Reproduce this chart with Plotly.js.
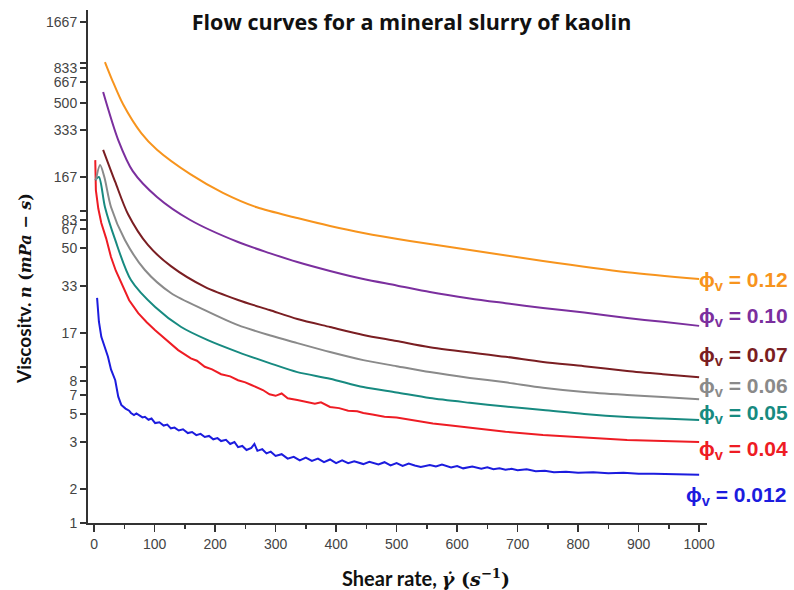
<!DOCTYPE html>
<html>
<head>
<meta charset="utf-8">
<script src="https://cdn.plot.ly/plotly-3.0.1.min.js"></script>
<style>html,body{margin:0;padding:0;background:#fff;}#chart{width:794px;height:590px;}</style>
</head>
<body>
<div id="chart"></div>
<script>
// ---- Non-uniform viscosity scale used by the reference axis (label value -> axis position)
const yScaleValues = [1, 2, 3, 5, 7, 8, 17, 33, 50, 67, 83, 167, 333, 500, 667, 833, 1667];
const yScalePos    = [0, 34, 81, 109, 128, 142, 190, 237, 275, 294, 303, 346, 393, 420, 441, 455, 501];
const yTickLabels  = ["1", "2", "3", "5", "7", "8", "17", "33", "50", "67", "83", "167", "333", "500", "667", "833", "1667"];
const yBlankTickPos = [156, 312, 460];

// ---- Data: shear rate (1/s) and viscosity (mPa·s)
const shear012 = [5, 8, 12, 18, 23, 28, 35, 40, 45, 52, 58, 61, 66, 70, 75, 80, 84, 90, 95, 101, 108, 115, 121, 127, 133, 140, 147, 155, 162, 169, 176, 183, 190, 197, 204, 210, 218, 225, 232, 238, 245, 252, 260, 265, 270, 278, 285, 292, 300, 310, 320, 330, 340, 350, 360, 370, 380, 390, 400, 410, 420, 430, 445, 455, 470, 480, 490, 500, 510, 520, 530, 540, 555, 565, 575, 590, 600, 610, 625, 640, 650, 660, 670, 680, 690, 700, 715, 730, 745, 760, 780, 800, 825, 850, 875, 900, 925, 950, 975, 1000];
const visc012  = [27.9, 20, 16.0, 13.5, 11.7, 9.6, 8.1, 6.8, 5.87, 5.5, 5.3, 5.09, 4.9, 5.05, 4.85, 4.7, 4.75, 4.5, 4.6, 4.24, 4.3, 4.05, 4.12, 3.85, 3.9, 3.7, 3.78, 3.53, 3.6, 3.4, 3.48, 3.29, 3.35, 3.15, 3.22, 3.05, 3.12, 2.95, 3.0, 2.87, 2.9, 2.8, 2.85, 2.95, 2.78, 2.82, 2.72, 2.76, 2.66, 2.7, 2.6, 2.64, 2.56, 2.62, 2.55, 2.6, 2.52, 2.58, 2.5, 2.56, 2.5, 2.54, 2.48, 2.53, 2.47, 2.52, 2.45, 2.5, 2.44, 2.49, 2.45, 2.42, 2.46, 2.43, 2.47, 2.41, 2.44, 2.39, 2.43, 2.38, 2.41, 2.37, 2.39, 2.36, 2.38, 2.35, 2.37, 2.33, 2.34, 2.31, 2.32, 2.30, 2.31, 2.29, 2.30, 2.28, 2.28, 2.27, 2.27, 2.26];

const shear04 = [2, 3, 7, 12, 20, 28, 36, 45, 58, 73, 87, 101, 120, 139, 160, 170, 183, 195, 210, 225, 238, 250, 260, 270, 279, 290, 300, 310, 320, 336, 350, 365, 375, 390, 405, 420, 435, 445, 460, 480, 500, 527, 560, 590, 621, 680, 742, 810, 881, 940, 1000];
const visc04  = [214, 135, 100, 77.2, 58, 45.3, 39, 34.1, 27, 22.5, 19.8, 17.7, 15.2, 13.0, 11.4, 11.0, 10.0, 9.6, 8.9, 8.6, 8.1, 7.9, 7.7, 7.5, 7.34, 7.05, 6.9, 7.1, 6.6, 6.41, 6.2, 6.0, 6.15, 5.66, 5.55, 5.3, 5.25, 5.09, 4.95, 4.75, 4.7, 4.48, 4.2, 4.05, 3.9, 3.62, 3.41, 3.25, 3.11, 3.05, 3.0];

const shear05 = [2, 8, 18, 35, 61, 101, 144, 188, 238, 290, 336, 390, 445, 500, 555, 621, 680, 742, 810, 881, 940, 1000];
const visc05  = [159, 167, 102.5, 56.6, 35.2, 24.5, 18.5, 15.2, 12.6, 10.6, 9.2, 8.3, 7.55, 7.17, 6.63, 6.1, 5.7, 5.37, 5.0, 4.73, 4.6, 4.48];

const shear06 = [3, 10, 17, 28, 51, 84, 127, 183, 238, 290, 336, 390, 445, 500, 555, 621, 680, 742, 810, 881, 940, 1000];
const visc06  = [159, 199, 167, 102.5, 56.6, 39.3, 29.9, 23.5, 19.0, 16.4, 14.5, 12.6, 11.1, 10.1, 9.2, 8.4, 7.9, 7.5, 7.2, 7.0, 6.75, 6.5];

const shear07 = [15, 35, 56, 89, 127, 183, 238, 290, 336, 390, 445, 500, 555, 680, 742, 810, 881, 940, 1000];
const visc07  = [249, 154, 91.5, 52.4, 41.0, 32.6, 27.1, 23.5, 20.7, 18.5, 16.5, 15.0, 13.6, 11.7, 10.8, 10.1, 9.36, 8.9, 8.5];

const shear10 = [15, 40, 64, 104, 159, 238, 290, 336, 390, 445, 500, 555, 621, 680, 742, 810, 881, 940, 1000];
const visc10  = [581, 287, 182, 120.7, 83, 54.8, 47.3, 42.9, 38.9, 35.6, 33.2, 30.3, 27.7, 25.9, 24.2, 22.7, 21.0, 19.9, 18.8];

const shear12 = [18, 30, 48, 78, 104, 159, 213, 269, 336, 390, 445, 522, 621, 742, 881, 1000];
const visc12  = [911, 688, 490, 318, 249, 174, 129, 102, 85.7, 72.0, 63.0, 55.7, 48.9, 43.4, 38.4, 35.6];

const seriesNames = ["ϕv = 0.012", "ϕv = 0.04", "ϕv = 0.05", "ϕv = 0.06", "ϕv = 0.07", "ϕv = 0.10", "ϕv = 0.12"];
const labelTexts  = ["0.012", "0.04", "0.05", "0.06", "0.07", "0.10", "0.12"];

// ---- scale function: piecewise-logarithmic between labelled ticks
function toAxis(v) {
  const n = yScaleValues.length;
  if (v <= yScaleValues[0]) return yScalePos[0];
  for (let i = 0; i < n - 1; i++) {
    const a = yScaleValues[i], b = yScaleValues[i + 1];
    if (v <= b) {
      const t = Math.log(v / a) / Math.log(b / a);
      return yScalePos[i] + t * (yScalePos[i + 1] - yScalePos[i]);
    }
  }
  const a = yScaleValues[n - 2], b = yScaleValues[n - 1];
  const t = Math.log(v / a) / Math.log(b / a);
  return yScalePos[n - 2] + t * (yScalePos[n - 1] - yScalePos[n - 2]);
}

const colors = ["#1c1cde", "#ee1c24", "#178a80", "#8a8a8a", "#7a1e22", "#7b2f9e", "#f7941d"];
const xs = [shear012, shear04, shear05, shear06, shear07, shear10, shear12];
const ys = [visc012, visc04, visc05, visc06, visc07, visc10, visc12];
const smooth = [false, false, true, true, true, true, true];

const traces = xs.map((x, i) => ({
  type: "scatter",
  mode: "lines",
  name: seriesNames[i],
  x: x,
  y: ys[i].map(toAxis),
  customdata: ys[i],
  hovertemplate: "γ̇=%{x}<br>η=%{customdata}<extra>" + seriesNames[i] + "</extra>",
  line: smooth[i] ? {color: colors[i], width: 2, shape: "spline", smoothing: 0.8} : {color: colors[i], width: 2}
}));

// label positions (pixels in the 794x590 figure)
const plotL = 88, plotR = 707, plotT = 10, plotB = 523;
const labelPx = [[684, 496], [697, 450], [697, 414], [697, 387], [697, 356], [697, 317], [697, 281]];
const px2x = p => (p - plotL) / (plotR - plotL);
const px2y = p => (plotB - p) / (plotB - plotT);

const annotations = labelPx.map((p, i) => ({
  xref: "paper", yref: "paper",
  x: px2x(p[0]), y: px2y(p[1]),
  xanchor: "left", yanchor: "middle",
  showarrow: false,
  text: "<b>ϕ<sub>v</sub> = " + labelTexts[i] + "</b>",
  font: {family: "Liberation Sans, Arial, sans-serif", size: 21, color: colors[i]}
}));

annotations.push({
  xref: "paper", yref: "paper",
  x: px2x(426), y: px2y(578), xanchor: "center", yanchor: "middle", showarrow: false,
  text: "<b>Shear rate, </b><span style='font-family:DejaVu Serif;font-size:19px'><b><i>γ̇</i> (<i>s</i><sup>−1</sup>)</b></span>",
  font: {family: "Lato, sans-serif", size: 20, color: "#111"}
});
annotations.push({
  xref: "paper", yref: "paper",
  x: px2x(23), y: px2y(289), xanchor: "center", yanchor: "middle", showarrow: false, textangle: -90,
  text: "<b>Viscositv. </b><span style='font-family:DejaVu Serif;font-size:16px'><b><i>n</i> (<i>mPa</i> − <i>s</i>)</b></span>",
  font: {family: "Lato, sans-serif", size: 19, color: "#111"}
});

const tickvals = yScalePos.concat(yBlankTickPos);
const ticktext = yTickLabels.concat(yBlankTickPos.map(() => ""));

const layout = {
  width: 794, height: 590,
  margin: {l: plotL, r: 794 - plotR, t: plotT, b: 590 - plotB},
  paper_bgcolor: "#fff", plot_bgcolor: "#fff",
  showlegend: false,
  title: {
    text: "<b>Flow curves for a mineral slurry of kaolin</b>",
    font: {family: "Open Sans, sans-serif", size: 21.5, color: "#111"},
    x: 415 / 794, xanchor: "center", xref: "paper",
    y: 1 - 22 / 590, yanchor: "middle", yref: "container"
  },
  xaxis: {
    range: [-10, 1013],
    tickmode: "linear", tick0: 0, dtick: 100,
    ticks: "outside", ticklen: 7, tickwidth: 1.5, tickcolor: "#333",
    showline: true, linecolor: "#333", linewidth: 2,
    showgrid: false, zeroline: false,
    tickfont: {family: "Liberation Sans, Arial, sans-serif", size: 14, color: "#444"},
    minor: {ticks: "outside", ticklen: 4, tickwidth: 1.5, tickcolor: "#333", dtick: 50, tick0: 0, showgrid: false}
  },
  yaxis: {
    range: [0, 513],
    tickmode: "array", tickvals: tickvals, ticktext: ticktext,
    ticks: "outside", ticklen: 6, tickwidth: 1.5, tickcolor: "#333",
    showline: true, linecolor: "#333", linewidth: 2,
    showgrid: false, zeroline: false,
    tickfont: {family: "Liberation Sans, Arial, sans-serif", size: 14, color: "#444"}
  },
  annotations: annotations
};

Plotly.newPlot("chart", traces, layout, {displayModeBar: false, staticPlot: true});
</script>
</body>
</html>
